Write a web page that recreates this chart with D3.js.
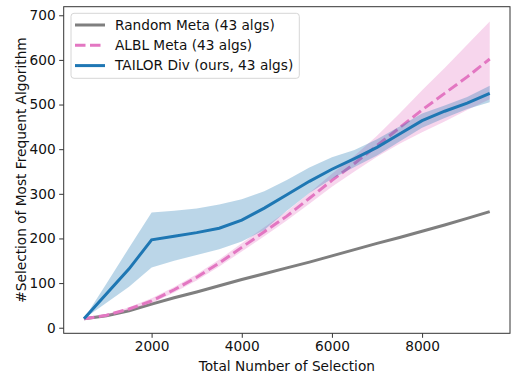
<!DOCTYPE html>
<html>
<head>
<meta charset="utf-8">
<script src="https://cdn.jsdelivr.net/npm/d3@7"></script>
<style>
  html, body { margin: 0; padding: 0; background: #fff; }
  svg { display: block; font-family: "DejaVu Sans", sans-serif; }
</style>
</head>
<body>
<svg id="chart" width="511" height="379"></svg>
<script>
// Total number of selections (x)
const selections = [500, 1000, 1500, 2000, 2500, 3000, 3500, 4000, 4500, 5000,
                    5500, 6000, 6500, 7000, 7500, 8000, 8500, 9000, 9500];

// Random Meta (43 algs)
const randomMean = [20, 27, 38, 53, 67, 80, 94, 108, 121, 134,
                    147, 161, 175, 189, 202, 216, 230, 245, 260];

// ALBL Meta (43 algs): mean and band
const albMean  = [20, 28, 42, 60, 85, 113, 145, 180, 215, 250,
                  290, 330, 368, 408, 448, 488, 525, 562, 602];
const albLower = [20, 26, 39, 55, 79, 106, 137, 171, 205, 240,
                  278, 316, 350, 383, 412, 438, 462, 488, 512];
const albUpper = [20, 30, 46, 66, 91, 120, 153, 189, 225, 261,
                  302, 345, 385, 430, 480, 532, 582, 634, 686];

// TAILOR Div (ours, 43 algs): mean and band
const tailorMean  = [20, 76, 132, 197, 205, 213, 223, 241, 268, 298,
                     328, 355, 379, 404, 434, 464, 485, 503, 525];
const tailorLower = [20, 56, 92, 135, 150, 163, 176, 193, 219, 262,
                     302, 334, 360, 386, 417, 448, 470, 490, 505];
const tailorUpper = [20, 99, 179, 258, 262, 267, 276, 288, 306, 331,
                     359, 382, 398, 422, 451, 480, 498, 517, 542];

const xTicks = [2000, 4000, 6000, 8000];
const yTicks = [0, 100, 200, 300, 400, 500, 600, 700];

const legendLabels = ["Random Meta (43 algs)", "ALBL Meta (43 algs)", "TAILOR Div (ours, 43 algs)"];
const colors = { random: "#7f7f7f", albl: "#e377c2", tailor: "#1f77b4" };

const svg = d3.select("#chart");
const plot = { left: 63.7, right: 510, top: 6.7, bottom: 333.3 };
const fontSize = 13.7;

const x = d3.scaleLinear().domain([50, 9950]).range([plot.left, plot.right]);
const y = d3.scaleLinear().domain([-12.5, 719.2]).range([plot.bottom, plot.top]);

const line = vals => d3.line().x((d, i) => x(selections[i])).y(d => y(d))(vals);
const band = (lo, hi) => d3.area()
  .x((d, i) => x(selections[i]))
  .y0((d, i) => y(lo[i]))
  .y1((d, i) => y(hi[i]))(lo);

const g = svg.append("g");

// series: line first, then its band, in legend order
g.append("path").attr("d", line(randomMean))
  .attr("fill", "none").attr("stroke", colors.random).attr("stroke-width", 3);

g.append("path").attr("d", line(albMean))
  .attr("fill", "none").attr("stroke", colors.albl).attr("stroke-width", 3)
  .attr("stroke-dasharray", "10.5,4.5");
g.append("path").attr("d", band(albLower, albUpper))
  .attr("fill", colors.albl).attr("fill-opacity", 0.3);

g.append("path").attr("d", line(tailorMean))
  .attr("fill", "none").attr("stroke", colors.tailor).attr("stroke-width", 3);
g.append("path").attr("d", band(tailorLower, tailorUpper))
  .attr("fill", colors.tailor).attr("fill-opacity", 0.3);

// axes
const xAxis = svg.append("g").attr("transform", `translate(0,${plot.bottom})`)
  .call(d3.axisBottom(x).tickValues(xTicks).tickFormat(d3.format("d")).tickSize(4.5).tickPadding(3.5));
const yAxis = svg.append("g").attr("transform", `translate(${plot.left},0)`)
  .call(d3.axisLeft(y).tickValues(yTicks).tickFormat(d3.format("d")).tickSize(4.5).tickPadding(3.5));
[xAxis, yAxis].forEach(a => {
  a.select(".domain").remove();
  a.selectAll("line").attr("stroke", "#333").attr("stroke-width", 1);
  a.selectAll("text").attr("fill", "#111").style("font-size", fontSize + "px")
    .style("font-family", "'DejaVu Sans', sans-serif");
});

// frame
svg.append("rect")
  .attr("x", plot.left).attr("y", plot.top)
  .attr("width", plot.right - plot.left).attr("height", plot.bottom - plot.top)
  .attr("fill", "none").attr("stroke", "#333").attr("stroke-width", 1);

// axis titles
svg.append("text")
  .attr("x", (plot.left + plot.right) / 2).attr("y", 370.5)
  .attr("text-anchor", "middle").attr("fill", "#111")
  .style("font-size", fontSize + "px")
  .text("Total Number of Selection");
svg.append("text")
  .attr("transform", `translate(21.5,${(plot.top + plot.bottom) / 2}) rotate(-90)`)
  .attr("text-anchor", "middle").attr("dy", "0.35em").attr("fill", "#111")
  .style("font-size", fontSize + "px")
  .text("#Selection of Most Frequent Algorithm");

// legend
const legend = svg.append("g");
legend.append("rect")
  .attr("x", 71).attr("y", 13.3).attr("width", 228.3).attr("height", 65)
  .attr("rx", 3).attr("fill", "#fff").attr("fill-opacity", 0.8)
  .attr("stroke", "#d6d6d6").attr("stroke-width", 1);
const legendStyles = [
  { color: colors.random, dash: null },
  { color: colors.albl, dash: "10.5,4.5" },
  { color: colors.tailor, dash: null }
];
legendLabels.forEach((label, i) => {
  const cy = 25 + i * 20.3;
  legend.append("line")
    .attr("x1", 75).attr("x2", 105).attr("y1", cy).attr("y2", cy)
    .attr("stroke", legendStyles[i].color).attr("stroke-width", 3)
    .attr("stroke-dasharray", legendStyles[i].dash);
  legend.append("text")
    .attr("x", 115).attr("y", cy).attr("dy", "0.35em")
    .attr("fill", "#111").style("font-size", fontSize + "px")
    .text(label);
});
</script>
</body>
</html>
